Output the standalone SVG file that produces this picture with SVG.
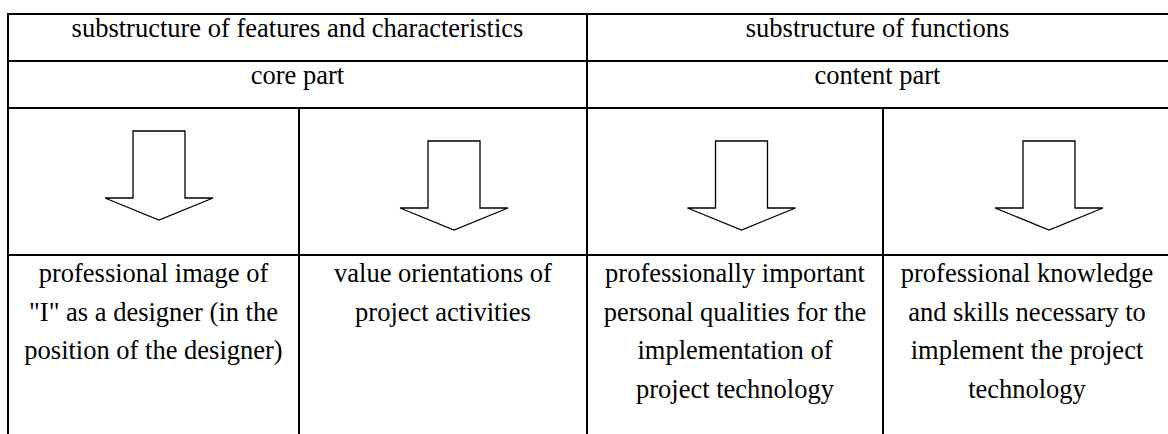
<svg xmlns="http://www.w3.org/2000/svg" xmlns:xlink="http://www.w3.org/1999/xlink" width="1168" height="434" viewBox="0 0 1168 434">
  <style>
    .grid line { stroke: #000; stroke-width: 2; }
    text { font-family: "Liberation Serif", "Times New Roman", serif; font-size: 26.5px; fill: #000; text-anchor: middle; }
    .arrow { fill: #fff; stroke: #000; stroke-width: 1.3; stroke-linejoin: miter; }
  </style>
  <defs>
    <path id="blockArrow" class="arrow" d="M -26 0 L 26 0 L 26 67 L 54 67 L 0 89 L -54 67 L -26 67 Z"/>
  </defs>
  <rect x="0" y="0" width="1168" height="434" fill="#fff"/>

  <g id="grid" class="grid">
    <line x1="7" y1="14" x2="1168" y2="14"/>
    <line x1="8" y1="61" x2="1168" y2="61"/>
    <line x1="8" y1="108" x2="1168" y2="108"/>
    <line x1="8" y1="255" x2="1168" y2="255"/>
    <line x1="8" y1="13" x2="8" y2="434"/>
    <line x1="587" y1="13" x2="587" y2="434"/>
    <line x1="299" y1="108" x2="299" y2="434"/>
    <line x1="883" y1="108" x2="883" y2="434"/>
  </g>

  <g id="header-features">
    <text x="297.5" y="37">substructure of features and characteristics</text>
  </g>
  <g id="header-functions">
    <text x="877.5" y="37">substructure of functions</text>
  </g>
  <g id="core-part">
    <text x="297.5" y="84">core part</text>
  </g>
  <g id="content-part">
    <text x="877.5" y="84">content part</text>
  </g>

  <g id="connectors">
    <use xlink:href="#blockArrow" href="#blockArrow" transform="translate(159,131)"/>
    <use xlink:href="#blockArrow" href="#blockArrow" transform="translate(454,141)"/>
    <use xlink:href="#blockArrow" href="#blockArrow" transform="translate(741.5,141)"/>
    <use xlink:href="#blockArrow" href="#blockArrow" transform="translate(1049,141)"/>
  </g>

  <g id="professional-image">
    <text x="153.5" y="282">professional image of</text>
    <text x="153.5" y="320.7">"I" as a designer (in the</text>
    <text x="153.5" y="359.4">position of the designer)</text>
  </g>
  <g id="value-orientations">
    <text x="443" y="282">value orientations of</text>
    <text x="443" y="320.7">project activities</text>
  </g>
  <g id="personal-qualities">
    <text x="735" y="282">professionally important</text>
    <text x="735" y="320.7">personal qualities for the</text>
    <text x="735" y="359.4">implementation of</text>
    <text x="735" y="398">project technology</text>
  </g>
  <g id="knowledge-skills">
    <text x="1027" y="282">professional knowledge</text>
    <text x="1027" y="320.7">and skills necessary to</text>
    <text x="1027" y="359.4">implement the project</text>
    <text x="1027" y="398">technology</text>
  </g>
</svg>
